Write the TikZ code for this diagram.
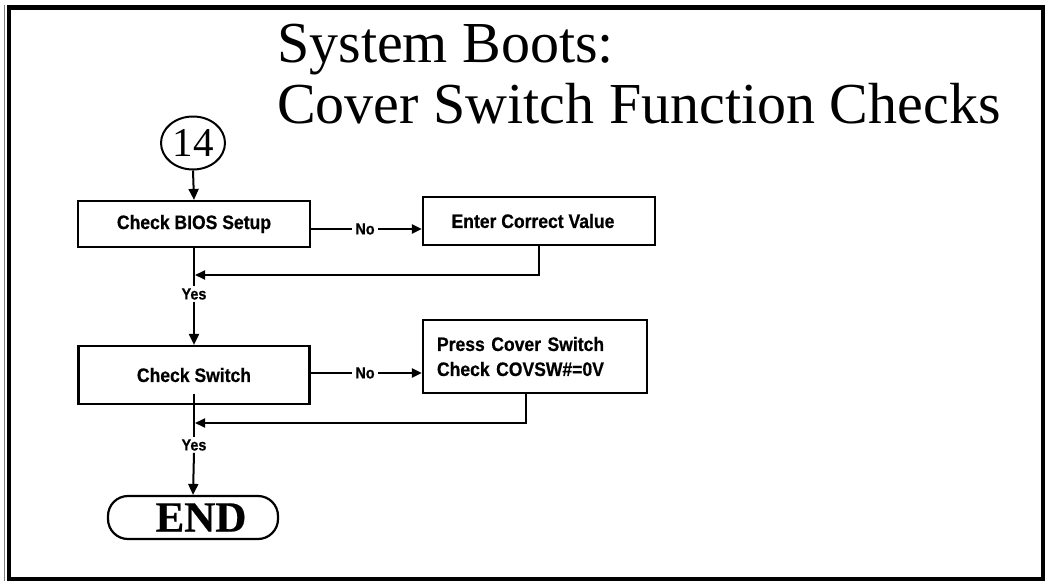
\documentclass[tikz,border=0pt]{standalone}
\usepackage{fontspec}
\setmainfont{Liberation Serif}
\setsansfont{Liberation Sans}
\newfontfamily\condsans{Liberation Sans}[FakeStretch=0.9,FakeBold=0.6]
\newfontfamily\heavyserif{Liberation Serif}[FakeBold=0.5]
\usetikzlibrary{arrows.meta,shapes.geometric}
\begin{document}
\begin{tikzpicture}[x=1pt,y=-1pt,
  box/.style={draw,line width=2.2pt,rectangle,inner sep=0pt,
    font=\condsans\bfseries\fontsize{19.5}{23}\selectfont},
  lab/.style={inner xsep=3pt,inner ysep=2pt,
    font=\condsans\bfseries\fontsize{16}{18}\selectfont},
  conn/.style={line width=2pt},
  arr/.style={line width=2pt,-{Triangle[length=11pt,width=10pt]}},
  harr/.style={line width=2pt,-{Triangle[length=10pt,width=9pt]}},
  title/.style={anchor=base west,inner sep=0pt,font=\fontsize{58}{60}\selectfont}
]
\useasboundingbox (0,0) rectangle (1045,581);
% frame
\fill[black] (7,5) rectangle (1045,10);
\fill[black] (7,577) rectangle (1045,581);
\fill[black] (7,5) rectangle (11,581);
\fill[black] (1041,5) rectangle (1045,581);
\draw[gray,line width=1.2pt] (4.5,5) -- (4.5,581);
% title
\node[title] (t1) at (277,62) {System Boots:};
\node[title] (t2) at (277,123) {Cover Switch Function Checks};
% nodes
\node[draw,ellipse,line width=2pt,minimum width=64pt,minimum height=53pt,inner sep=0pt,
  font=\fontsize{41}{43}\selectfont] (c14) at (193,143) {14};
\node[box,minimum width=232pt,minimum height=46pt] (b1) at (194,224) {Check BIOS Setup};
\node[box,minimum width=232pt,minimum height=48pt] (b2) at (539,221) {Enter Correct Value\hspace*{12pt}};
\node[box,minimum width=231pt,minimum height=58pt] (b3) at (194,375) {Check Switch};
\node[box,minimum width=224pt,minimum height=73pt,inner xsep=14pt,text width=196pt,align=left,
  font=\condsans\bfseries\fontsize{19.5}{25}\selectfont] (b4) at (535,356.5) {Press Cover Switch\\Check COVSW\#=0V};
\node[draw,line width=2.2pt,rectangle,rounded corners=20pt,minimum width=170pt,minimum height=43pt,
  inner sep=0pt,font=\heavyserif\bfseries\fontsize{43}{45}\selectfont] (endn) at (193,517.5) {\hspace*{16pt}END};
% labels
\node[lab] (no1) at (365,229) {No};
\node[lab] (no2) at (365,373) {No};
\node[lab] (yes1) at (194,294) {Yes};
\node[lab] (yes2) at (194,445) {Yes};
\coordinate (j1) at (195,275);
\coordinate (j2) at (195,423);
% connectors
\draw[arr] (c14.south) -- (b1.north);
\draw[conn] (b1.east |- no1) -- (no1.west);
\draw[harr] (no1.east) -- (b2.west |- no1);
\draw[harr] (b2.south) |- (j1);
\draw[conn] (b1.south) -- (yes1.north);
\draw[arr] (yes1.south) -- (b3.north);
\draw[conn] (b3.east |- no2) -- (no2.west);
\draw[harr] (no2.east) -- (b4.west |- no2);
\draw[harr] ([xshift=-9pt]b4.south) |- (j2);
\draw[conn] ([yshift=11pt]b3.south) -- (yes2.north);
\draw[arr] (yes2.south) -- (endn.north);
\end{tikzpicture}
\end{document}
